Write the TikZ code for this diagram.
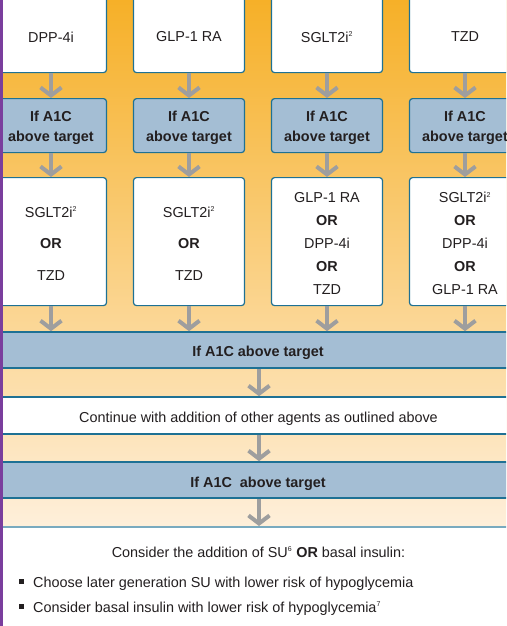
\documentclass[tikz,border=0pt]{standalone}
\usepackage{fontspec}
\setmainfont{Liberation Sans}
\usetikzlibrary{arrows.meta}
\definecolor{teal}{HTML}{1E7194}
\definecolor{bluefill}{HTML}{A4BED4}
\definecolor{arrgray}{HTML}{9E9E9E}
\definecolor{purp}{HTML}{7A3E9D}
\definecolor{txt}{HTML}{231F20}
\newcommand{\mainsize}{\fontsize{14.4}{17}\selectfont}
\newcommand{\supsmall}[1]{\textsuperscript{\fontsize{7}{7}\selectfont #1}}
\tikzset{
  whitebox/.style={draw=teal, line width=1.2pt, fill=white, rounded corners=3pt,
    minimum width=111pt, inner sep=0pt, align=center, text=txt},
  bluebox/.style={draw=teal, line width=1.2pt, fill=bluefill, rounded corners=3pt,
    minimum width=111pt, minimum height=54pt, inner sep=0pt},
  lbl/.style={text=txt, align=center, inner sep=0pt},
  boldlbl/.style={lbl, font=\mainsize\bfseries},
  band/.style={draw=teal, line width=1.6pt, minimum width=530pt, inner sep=0pt},
  arr/.style={draw=arrgray, line width=4.5pt,
    -{Straight Barb[length=8pt,width=21pt,line width=4pt]}},
}
\begin{document}
\begin{tikzpicture}[x=1pt,y=-1pt,font=\mainsize]
\useasboundingbox (0,0) rectangle (506,626);
\begin{scope}
\clip (0,0) rectangle (506,626);
\shade[top color={rgb,255:red,246;green,176;blue,40}, bottom color={rgb,255:red,254;green,239;blue,218}] (-2,0) rectangle (508,526);
\fill[white] (-2,526) rectangle (508,628);
% top boxes
\foreach \i/\x in {1/51,2/189,3/327,4/465}{
  \node[whitebox, minimum height=82pt, anchor=north] (t\i) at (\x,-10) {};
  \node[bluebox, anchor=north] (b\i) at (\x,98) {};
  \node[boldlbl] (l-b\i) at (\x,128) {If A1C\\[3pt]above target};
  \node[whitebox, minimum height=128pt, anchor=north] (w\i) at (\x,177) {};
}
\node[lbl] (l-t1) at (51,37) {DPP-4i};
\node[lbl] (l-t2) at (189,37) {GLP-1 RA};
\node[lbl] (l-t3) at (327,37) {SGLT2i\supsmall{2}};
\node[lbl] (l-t4) at (465,37) {TZD};
% lower white box texts
\node[lbl] (l-w1) at (51,243.5)
  {SGLT2i\supsmall{2}\\[14.5pt]\textbf{OR}\\[14.5pt]TZD};
\node[lbl] (l-w2) at (189,243.5)
  {SGLT2i\supsmall{2}\\[14.5pt]\textbf{OR}\\[14.5pt]TZD};
\node[lbl] (l-w3) at (327,243.5)
  {GLP-1 RA\\[6pt]\textbf{OR}\\[6pt]DPP-4i\\[6pt]\textbf{OR}\\[6pt]TZD};
\node[lbl] (l-w4) at (465,243.5)
  {SGLT2i\supsmall{2}\\[6pt]\textbf{OR}\\[6pt]DPP-4i\\[6pt]\textbf{OR}\\[6pt]GLP-1 RA};
% bands
\node[band, fill=bluefill, minimum height=36pt] (band1) at (258,350) {};
\node[boldlbl] (l-band1) at (258,353) {If A1C above target};
\node[band, fill=white, minimum height=37pt] (cont) at (258.5,415.5) {};
\node[lbl] (l-cont) at (258.5,418.5) {Continue with addition of other agents as outlined above};
\node[band, fill=bluefill, minimum height=36pt] (band2) at (258,480) {};
\node[boldlbl] (l-band2) at (258,483.5) {If A1C\ \ above target};
\node[band, fill=white, draw=teal!60, minimum height=110pt, anchor=north] (final) at (258,526) {};
\coordinate (fin) at (259,526);
\node[lbl] (cons) at (258.5,552) {Consider the addition of SU\supsmall{6} \textbf{OR} basal insulin:};
\node[lbl, anchor=base west] (l1) at (33,587) {Choose later generation SU with lower risk of hypoglycemia};
\node[lbl, anchor=base west] (l2) at (33,612) {Consider basal insulin with lower risk of hypoglycemia\supsmall{7}};
\fill[txt] (19,579) rectangle +(5,5);
\fill[txt] (19,604) rectangle +(5,5);
% arrows
\foreach \i in {1,2,3,4}{
  \draw[arr] (t\i.south) -- (b\i.north);
  \draw[arr] (b\i.south) -- (w\i.north);
  \draw[arr] (w\i.south) -- (w\i.south |- band1.north);
}
\draw[arr] (band1.south -| fin) -- (cont.north -| fin);
\draw[arr] (cont.south -| fin) -- (band2.north -| fin);
\draw[arr] (band2.south -| fin) -- (fin);
\fill[purp] (0,0) rectangle (2.8,626);
\end{scope}
\end{tikzpicture}
\end{document}
